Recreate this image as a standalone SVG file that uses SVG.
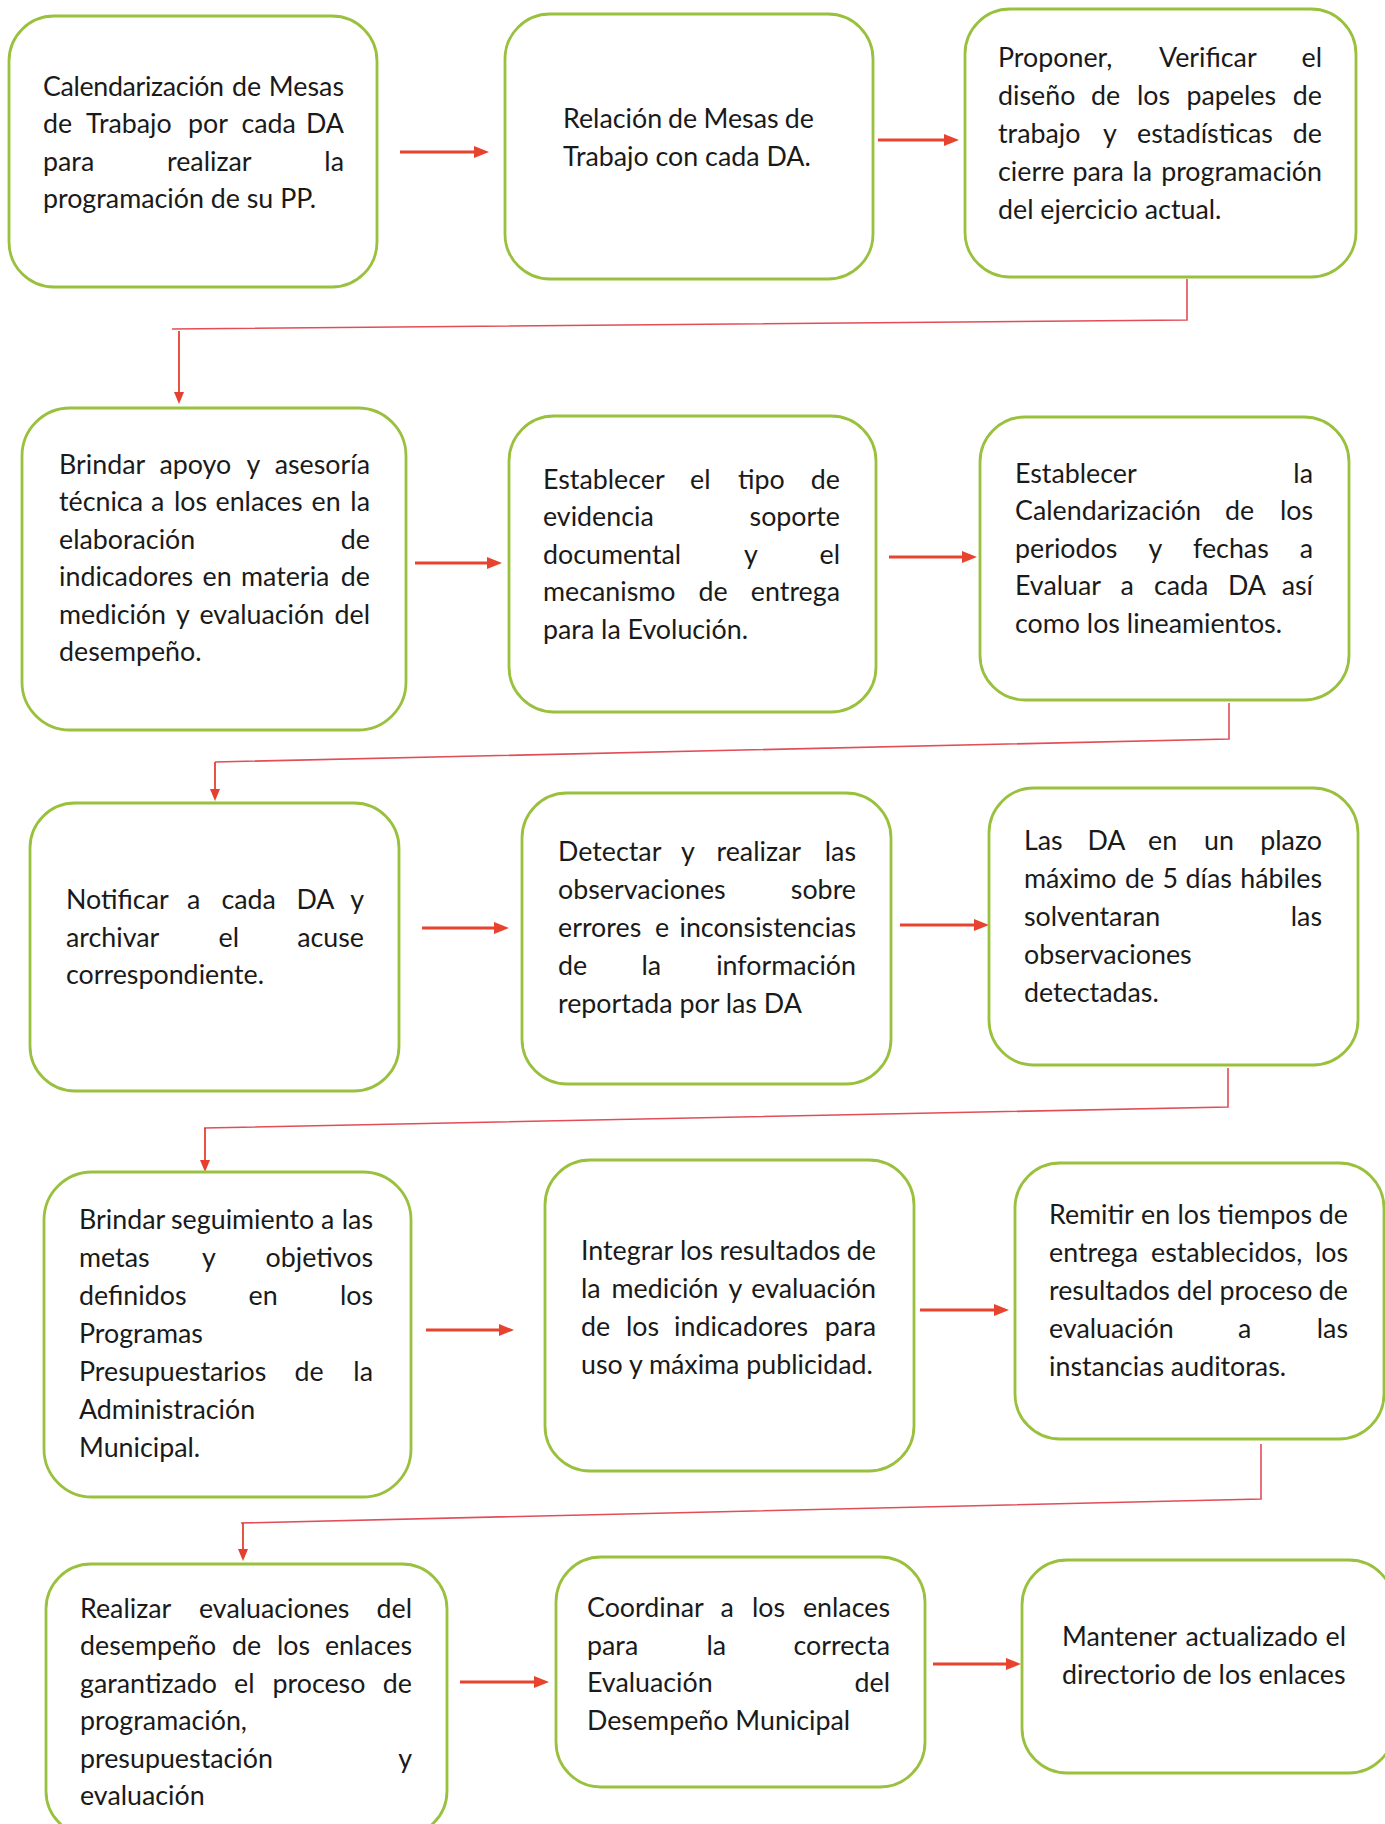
<svg xmlns="http://www.w3.org/2000/svg" width="1385" height="1824" viewBox="0 0 1385 1824">
<style>
.box{fill:#ffffff;stroke:#99c13d;stroke-width:2.8}
.t{font-family:Lato,"Open Sans","Liberation Sans",sans-serif;font-size:26.8px;fill:#1a1a1a;transform:translateY(2.5px)}
.arr{stroke:#e8432f;stroke-width:3.2;fill:none;marker-end:url(#ah)}
.con{stroke:#e24d58;stroke-width:1.6;fill:none}
.down{stroke:#e5402f;stroke-width:1.8;fill:none;marker-end:url(#ah2)}
</style>
<defs>
<marker id="ah" markerUnits="userSpaceOnUse" markerWidth="16" markerHeight="12" refX="4" refY="6" orient="auto"><path d="M0,0 L15,6 L0,12 z" fill="#e8432f"/></marker>
<marker id="ah2" markerUnits="userSpaceOnUse" markerWidth="13" markerHeight="11" refX="3" refY="5" orient="auto"><path d="M0,0 L12,5 L0,10 z" fill="#e5402f"/></marker>
</defs>
<rect width="1385" height="1824" fill="#ffffff"/>

<g id="connectors">
<line class="arr" x1="400" y1="152" x2="478" y2="152"/>
<line class="arr" x1="878" y1="140" x2="948" y2="140"/>
<line class="arr" x1="415" y1="563" x2="491" y2="563"/>
<line class="arr" x1="889" y1="557" x2="966" y2="557"/>
<line class="arr" x1="422" y1="928" x2="498" y2="928"/>
<line class="arr" x1="900" y1="925" x2="978" y2="925"/>
<line class="arr" x1="426" y1="1330" x2="503" y2="1330"/>
<line class="arr" x1="920" y1="1310" x2="998" y2="1310"/>
<line class="arr" x1="460" y1="1682" x2="538" y2="1682"/>
<line class="arr" x1="933" y1="1664" x2="1010" y2="1664"/>
<polyline class="con" points="1187,279 1187,320 172,329"/>
<line class="down" x1="179" y1="331" x2="179" y2="395"/>
<polyline class="con" points="1229,703 1229,739 215,762"/>
<line class="down" x1="215" y1="762" x2="215" y2="792"/>
<polyline class="con" points="1228,1068 1228,1107 204,1128"/>
<line class="down" x1="205" y1="1128" x2="205" y2="1163"/>
<polyline class="con" points="1261,1444 1261,1499 241,1523"/>
<line class="down" x1="243" y1="1523" x2="243" y2="1552"/>
</g>

<g id="n1">
<rect class="box" x="9" y="16" width="368" height="271" rx="45"/>
<text class="t" y="93"><tspan x="43" style="letter-spacing:-0.35px">Calendarización</tspan> <tspan x="232">de</tspan> <tspan x="344" text-anchor="end">Mesas</tspan></text>
<text class="t" y="130.5"><tspan x="43">de</tspan> <tspan x="86">Trabajo</tspan> <tspan x="188">por</tspan> <tspan x="241.5">cada</tspan> <tspan x="344" text-anchor="end">DA</tspan></text>
<text class="t" y="168"><tspan x="43">para</tspan> <tspan x="167">realizar</tspan> <tspan x="344" text-anchor="end">la</tspan></text>
<text class="t" x="43" y="205.5">programación de su PP.</text>
</g>

<g id="n2">
<rect class="box" x="505" y="14" width="368" height="265" rx="45"/>
<text class="t" y="125"><tspan x="563">Relación</tspan> <tspan x="668">de</tspan> <tspan x="703.5">Mesas</tspan> <tspan x="814" text-anchor="end">de</tspan></text>
<text class="t" x="563" y="163">Trabajo con cada DA.</text>
</g>

<g id="n3">
<rect class="box" x="965" y="9" width="391" height="268" rx="45"/>
<text class="t" y="64"><tspan x="998">Proponer,</tspan> <tspan x="1159">Verificar</tspan> <tspan x="1322" text-anchor="end">el</tspan></text>
<text class="t" y="102"><tspan x="998">diseño</tspan> <tspan x="1091">de</tspan> <tspan x="1137">los</tspan> <tspan x="1186.5">papeles</tspan> <tspan x="1322" text-anchor="end">de</tspan></text>
<text class="t" y="140"><tspan x="998">trabajo</tspan> <tspan x="1103">y</tspan> <tspan x="1137">estadísticas</tspan> <tspan x="1322" text-anchor="end">de</tspan></text>
<text class="t" y="178"><tspan x="998">cierre</tspan> <tspan x="1072.5">para</tspan> <tspan x="1132.5">la</tspan> <tspan x="1322" text-anchor="end">programación</tspan></text>
<text class="t" x="998" y="216">del ejercicio actual.</text>
</g>

<g id="n4">
<rect class="box" x="22" y="408" width="384" height="322" rx="48"/>
<text class="t" y="471"><tspan x="59">Brindar</tspan> <tspan x="159.5">apoyo</tspan> <tspan x="246.5">y</tspan> <tspan x="370" text-anchor="end">asesoría</tspan></text>
<text class="t" y="508.5"><tspan x="59">técnica</tspan> <tspan x="151">a</tspan> <tspan x="174">los</tspan> <tspan x="215.5">enlaces</tspan> <tspan x="311.5">en</tspan> <tspan x="370" text-anchor="end">la</tspan></text>
<text class="t" y="546"><tspan x="59">elaboración</tspan> <tspan x="370" text-anchor="end">de</tspan></text>
<text class="t" y="583.5"><tspan x="59">indicadores</tspan> <tspan x="202.5">en</tspan> <tspan x="241">materia</tspan> <tspan x="370" text-anchor="end">de</tspan></text>
<text class="t" y="621"><tspan x="59">medición</tspan> <tspan x="176">y</tspan> <tspan x="199.5">evaluación</tspan> <tspan x="370" text-anchor="end">del</tspan></text>
<text class="t" x="59" y="658.5">desempeño.</text>
</g>

<g id="n5">
<rect class="box" x="509" y="416" width="367" height="296" rx="45"/>
<text class="t" y="486"><tspan x="543">Establecer</tspan> <tspan x="690">el</tspan> <tspan x="738">tipo</tspan> <tspan x="840" text-anchor="end">de</tspan></text>
<text class="t" y="523.5"><tspan x="543">evidencia</tspan> <tspan x="840" text-anchor="end">soporte</tspan></text>
<text class="t" y="561"><tspan x="543">documental</tspan> <tspan x="744">y</tspan> <tspan x="840" text-anchor="end">el</tspan></text>
<text class="t" y="598.5"><tspan x="543">mecanismo</tspan> <tspan x="698.5">de</tspan> <tspan x="840" text-anchor="end">entrega</tspan></text>
<text class="t" x="543" y="636">para la Evolución.</text>
</g>

<g id="n6">
<rect class="box" x="980" y="417" width="369" height="283" rx="45"/>
<text class="t" y="480"><tspan x="1015">Establecer</tspan> <tspan x="1313" text-anchor="end">la</tspan></text>
<text class="t" y="517.5"><tspan x="1015">Calendarización</tspan> <tspan x="1225">de</tspan> <tspan x="1313" text-anchor="end">los</tspan></text>
<text class="t" y="555"><tspan x="1015">periodos</tspan> <tspan x="1148.5">y</tspan> <tspan x="1193">fechas</tspan> <tspan x="1313" text-anchor="end">a</tspan></text>
<text class="t" y="592.5"><tspan x="1015">Evaluar</tspan> <tspan x="1120.5">a</tspan> <tspan x="1154">cada</tspan> <tspan x="1228">DA</tspan> <tspan x="1313" text-anchor="end">así</tspan></text>
<text class="t" x="1015" y="630">como los lineamientos.</text>
</g>

<g id="n7">
<rect class="box" x="30" y="803" width="369" height="288" rx="45"/>
<text class="t" y="906.5"><tspan x="66">Notificar</tspan> <tspan x="187">a</tspan> <tspan x="221.5">cada</tspan> <tspan x="296.5">DA</tspan> <tspan x="364" text-anchor="end">y</tspan></text>
<text class="t" y="944"><tspan x="66">archivar</tspan> <tspan x="218.5">el</tspan> <tspan x="364" text-anchor="end">acuse</tspan></text>
<text class="t" x="66" y="981.5">correspondiente.</text>
</g>

<g id="n8">
<rect class="box" x="522" y="793" width="369" height="291" rx="45"/>
<text class="t" y="858.5"><tspan x="558">Detectar</tspan> <tspan x="681">y</tspan> <tspan x="716.5">realizar</tspan> <tspan x="856" text-anchor="end">las</tspan></text>
<text class="t" y="896.5"><tspan x="558">observaciones</tspan> <tspan x="856" text-anchor="end">sobre</tspan></text>
<text class="t" y="934.5"><tspan x="558">errores</tspan> <tspan x="655">e</tspan> <tspan x="856" text-anchor="end">inconsistencias</tspan></text>
<text class="t" y="972.5"><tspan x="558">de</tspan> <tspan x="641.5">la</tspan> <tspan x="856" text-anchor="end">información</tspan></text>
<text class="t" x="558" y="1010.5">reportada por las DA</text>
</g>

<g id="n9">
<rect class="box" x="989" y="788" width="369" height="277" rx="45"/>
<text class="t" y="847"><tspan x="1024">Las</tspan> <tspan x="1087.5">DA</tspan> <tspan x="1148">en</tspan> <tspan x="1204">un</tspan> <tspan x="1322" text-anchor="end">plazo</tspan></text>
<text class="t" y="885"><tspan x="1024">máximo</tspan> <tspan x="1125">de</tspan> <tspan x="1162.5">5</tspan> <tspan x="1185.5">días</tspan> <tspan x="1322" text-anchor="end">hábiles</tspan></text>
<text class="t" y="923"><tspan x="1024">solventaran</tspan> <tspan x="1322" text-anchor="end">las</tspan></text>
<text class="t" x="1024" y="961">observaciones</text>
<text class="t" x="1024" y="999">detectadas.</text>
</g>

<g id="n10">
<rect class="box" x="44" y="1172" width="367" height="325" rx="48"/>
<text class="t" y="1226"><tspan x="79">Brindar</tspan> <tspan x="171">seguimiento</tspan> <tspan x="321">a</tspan> <tspan x="373" text-anchor="end">las</tspan></text>
<text class="t" y="1264"><tspan x="79">metas</tspan> <tspan x="202">y</tspan> <tspan x="373" text-anchor="end">objetivos</tspan></text>
<text class="t" y="1302"><tspan x="79">definidos</tspan> <tspan x="248.5">en</tspan> <tspan x="373" text-anchor="end">los</tspan></text>
<text class="t" x="79" y="1340">Programas</text>
<text class="t" y="1378"><tspan x="79">Presupuestarios</tspan> <tspan x="294.5">de</tspan> <tspan x="373" text-anchor="end">la</tspan></text>
<text class="t" x="79" y="1416">Administración</text>
<text class="t" x="79" y="1454">Municipal.</text>
</g>

<g id="n11">
<rect class="box" x="545" y="1160" width="369" height="311" rx="45"/>
<text class="t" y="1257"><tspan x="581">Integrar</tspan> <tspan x="680">los</tspan> <tspan x="719.5">resultados</tspan> <tspan x="876" text-anchor="end">de</tspan></text>
<text class="t" y="1295"><tspan x="581">la</tspan> <tspan x="611.5">medición</tspan> <tspan x="728.5">y</tspan> <tspan x="876" text-anchor="end">evaluación</tspan></text>
<text class="t" y="1333"><tspan x="581">de</tspan> <tspan x="626">los</tspan> <tspan x="674">indicadores</tspan> <tspan x="876" text-anchor="end">para</tspan></text>
<text class="t" x="581" y="1371">uso y máxima publicidad.</text>
</g>

<g id="n12">
<rect class="box" x="1015" y="1163" width="369" height="276" rx="45"/>
<text class="t" y="1221"><tspan x="1049">Remitir</tspan> <tspan x="1141">en</tspan> <tspan x="1177.5">los</tspan> <tspan x="1217.5">tiempos</tspan> <tspan x="1348" text-anchor="end">de</tspan></text>
<text class="t" y="1259"><tspan x="1049">entrega</tspan> <tspan x="1151">establecidos,</tspan> <tspan x="1348" text-anchor="end">los</tspan></text>
<text class="t" y="1297"><tspan x="1049">resultados</tspan> <tspan x="1177">del</tspan> <tspan x="1219.5">proceso</tspan> <tspan x="1348" text-anchor="end">de</tspan></text>
<text class="t" y="1335"><tspan x="1049">evaluación</tspan> <tspan x="1238">a</tspan> <tspan x="1348" text-anchor="end">las</tspan></text>
<text class="t" x="1049" y="1373">instancias auditoras.</text>
</g>

<g id="n13">
<rect class="box" x="46" y="1564" width="401" height="272" rx="45"/>
<text class="t" y="1615"><tspan x="80">Realizar</tspan> <tspan x="199">evaluaciones</tspan> <tspan x="412" text-anchor="end">del</tspan></text>
<text class="t" y="1652.5"><tspan x="80">desempeño</tspan> <tspan x="232">de</tspan> <tspan x="277">los</tspan> <tspan x="412" text-anchor="end">enlaces</tspan></text>
<text class="t" y="1690"><tspan x="80">garantizado</tspan> <tspan x="234">el</tspan> <tspan x="272.5">proceso</tspan> <tspan x="412" text-anchor="end">de</tspan></text>
<text class="t" x="80" y="1727.5">programación,</text>
<text class="t" y="1765"><tspan x="80">presupuestación</tspan> <tspan x="412" text-anchor="end">y</tspan></text>
<text class="t" x="80" y="1802.5">evaluación</text>
</g>

<g id="n14">
<rect class="box" x="556" y="1557" width="369" height="230" rx="45"/>
<text class="t" y="1614.5"><tspan x="587">Coordinar</tspan> <tspan x="720.5">a</tspan> <tspan x="752">los</tspan> <tspan x="890" text-anchor="end">enlaces</tspan></text>
<text class="t" y="1652"><tspan x="587">para</tspan> <tspan x="706.5">la</tspan> <tspan x="890" text-anchor="end">correcta</tspan></text>
<text class="t" y="1689.5"><tspan x="587">Evaluación</tspan> <tspan x="890" text-anchor="end">del</tspan></text>
<text class="t" x="587" y="1727">Desempeño Municipal</text>
</g>

<g id="n15">
<rect class="box" x="1022" y="1560" width="372" height="213" rx="45"/>
<text class="t" y="1643"><tspan x="1062">Mantener</tspan> <tspan x="1185.5">actualizado</tspan> <tspan x="1346" text-anchor="end">el</tspan></text>
<text class="t" x="1062" y="1681">directorio de los enlaces</text>
</g>
</svg>
